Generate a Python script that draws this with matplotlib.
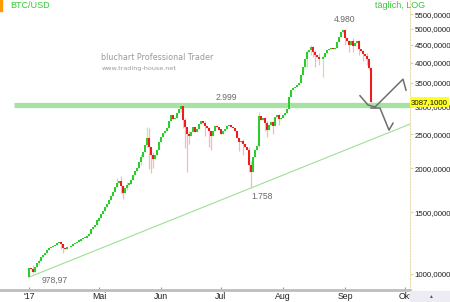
import matplotlib
matplotlib.use("Agg")
import matplotlib.pyplot as plt
import matplotlib.dates as mdates
import matplotlib.transforms as mtransforms
import pandas as pd
import numpy as np

plt.rcParams['font.family'] = ['Liberation Sans', 'DejaVu Sans']

# daily BTC/USD data, 27.03.2017 - 14.09.2017
start = pd.Timestamp("2017-03-27")
first_open = 979
closes = [
    1040, 1030, 1010, 1045, 1075, 1090, 1120, 1135, 1150, 1170,
    1185, 1195, 1200, 1210, 1225, 1230, 1215, 1185, 1180, 1190,
    1195, 1200, 1215, 1225, 1235, 1245, 1255, 1265, 1270, 1285,
    1300, 1340, 1360, 1380, 1420, 1440, 1480, 1510, 1550, 1580,
    1620, 1670, 1710, 1770, 1820, 1840, 1780, 1700, 1760, 1790,
    1810, 1850, 1910, 1960, 2000, 2080, 2150, 2230, 2330, 2440,
    2300, 2180, 2120, 2180, 2260, 2380, 2460, 2520, 2560, 2600,
    2720, 2840, 2760, 2790, 2880, 2950, 3000, 2750, 2620, 2500,
    2470, 2540, 2620, 2530, 2590, 2680, 2720, 2700, 2640, 2600,
    2550, 2470, 2560, 2640, 2620, 2580, 2510, 2560, 2590, 2640,
    2650, 2620, 2600, 2560, 2440, 2380, 2390, 2350, 2300, 2250,
    2050, 1950, 2150, 2250, 2320, 2820, 2750, 2780, 2700, 2580,
    2650, 2710, 2640, 2800, 2830, 2760, 2780, 2840, 2880, 2950,
    3200, 3350, 3380, 3420, 3450, 3500, 3700, 3900, 4100, 4280,
    4340, 4420, 4300, 4200, 4150, 4090, 4100, 4140, 4250, 4340,
    4370, 4390, 4380, 4400, 4580, 4720, 4880, 4950, 4700, 4600,
    4500, 4620, 4450, 4540, 4620, 4380, 4330, 4230, 4180, 4100,
    3860, 3087,
]
# longer shadows (day index: high, low)
shadows = {
    2: (1062, 1005), 5: (1100, 1060), 16: (1240, 1175), 17: (1215, 1150),
    44: (1880, 1790), 46: (1900, 1700), 47: (1790, 1640), 49: (1830, 1740),
    56: (2200, 2050), 59: (2620, 2300), 60: (2600, 1990), 61: (2300, 1940),
    62: (2220, 2000), 76: (3030, 2900), 77: (3000, 2600), 78: (2780, 2280),
    79: (2620, 1950), 80: (2560, 2350), 88: (2720, 2480), 90: (2620, 2300),
    91: (2560, 2250), 105: (2440, 2240), 107: (2420, 2180), 110: (2300, 1950),
    111: (2100, 1758), 115: (2900, 2300), 118: (2800, 2560), 119: (2720, 2450),
    122: (2720, 2500), 125: (2860, 2650), 139: (4350, 3900), 141: (4480, 4200),
    142: (4450, 4150), 143: (4350, 3900), 145: (4250, 3950), 147: (4200, 3650),
    157: (4980, 4850), 158: (4950, 4500), 160: (4650, 4300), 162: (4700, 4300),
    165: (4650, 4200), 167: (4350, 4050), 169: (4250, 3950), 170: (4120, 3800),
    171: (3900, 3000),
}

# resistance, trend line anchors and the hand drawn arrows (day index, price)
resistance = 3030
trend_days = [0, 111]
trend_vals = [979, 1758]
arrow_up = [(165.5, 3220), (169.5, 3030), (173, 2990), (187, 3590), (188.5, 3340)]
arrow_down = [(171, 2970), (175.5, 2970), (180, 2570), (182, 2690)]

yticks = [1000, 1500, 2000, 2500, 3000, 3500, 4000, 4500, 5000, 5500]
last_price = 3087.1

dates = pd.date_range(start, periods=len(closes), freq="D")
opens = [first_open] + closes[:-1]
x = mdates.date2num(dates)
highs = [max(o, c) for o, c in zip(opens, closes)]
lows = [min(o, c) for o, c in zip(opens, closes)]
for i, (h, l) in shadows.items():
    highs[i] = max(highs[i], h)
    lows[i] = min(lows[i], l)

def day(d):
    return mdates.date2num(start + pd.Timedelta(days=d))

fig = plt.figure(figsize=(4.5, 3.02), dpi=100)
ax = fig.add_axes([0, 12 / 302, 410 / 450, 290 / 302])
ax.set_yscale('log')
ax.set_ylim(900, 6035)
ax.set_xlim(day(-14.5), day(190.5))

# candles
up = [c >= o for o, c in zip(opens, closes)]
wick_col = ['#b9e9b3' if u else '#f8b8b8' for u in up]
body_col = ['#2ccc2c' if u else '#ee1c1c' for u in up]
ax.vlines(x, lows, highs, colors=wick_col, lw=0.9, zorder=2)
ax.bar(x, [abs(c - o) + 0.5 for o, c in zip(opens, closes)],
       bottom=[min(o, c) for o, c in zip(opens, closes)],
       width=0.75, color=body_col, linewidth=0, zorder=3)

# resistance and trend line
ax.plot([day(-7.5), day(190.5)], [resistance, resistance], color='#a6e3a0', lw=3.8, zorder=1, solid_capstyle='butt')
slope = (np.log10(trend_vals[1]) - np.log10(trend_vals[0])) / (trend_days[1] - trend_days[0])
t_end = 190.5
ax.plot([day(trend_days[0]), day(t_end)],
        [trend_vals[0], 10 ** (np.log10(trend_vals[0]) + slope * t_end)],
        color='#9ee095', lw=0.8, zorder=1)

for pts in (arrow_up, arrow_down):
    ax.plot([day(p[0]) for p in pts], [p[1] for p in pts], color='#6e6e6e', lw=1.1, zorder=4)

# value labels
lab = dict(color='#6a6a6a', fontsize=6.2, ha='center', va='center')
ax.text(day(13), 961, '978,97', **lab)
ax.text(day(116.5), 1657, '1.758', **lab)
ax.text(day(98.5), 3193, '2.999', **lab)
ax.text(day(158), 5325, '4.980', **lab)

# watermark
ax.text(0.247, 0.8, 'bluchart Professional Trader', transform=ax.transAxes,
        color='#9a9a9a', fontsize=5.8, family=['DejaVu Sans'], va='center')
ax.text(0.247, 0.765, 'www.trading-house.net', transform=ax.transAxes,
        color='#9a9a9a', fontsize=4.6, family=['DejaVu Sans'], va='center')

# axes styling
for s in ('top', 'left'):
    ax.spines[s].set_visible(False)
ax.spines['right'].set_color('#e7dcae')
ax.spines['right'].set_linestyle((0, (1, 1.5)))
ax.spines['bottom'].set_color('#bdbdbd')
ax.spines['bottom'].set_linewidth(2)
ax.yaxis.tick_right()
ax.set_yticks(yticks)
ax.set_yticklabels([f'{v},0000' for v in yticks])
ax.yaxis.set_minor_locator(matplotlib.ticker.NullLocator())
ax.tick_params(axis='y', labelsize=5.7, length=2, color='#e0d4a0', pad=1.2, labelcolor='#222222')

tick_dates = [start, pd.Timestamp("2017-05-01"), pd.Timestamp("2017-06-01"), pd.Timestamp("2017-07-01"),
              pd.Timestamp("2017-08-01"), pd.Timestamp("2017-09-01"), pd.Timestamp("2017-10-01")]
tick_names = ["'17", 'Mai', 'Jun', 'Jul', 'Aug', 'Sep', 'Okt']
ax.set_xticks(mdates.date2num(tick_dates))
ax.set_xticklabels(tick_names)
ax.tick_params(axis='x', labelsize=6.3, length=2, direction='in', color='#999999', pad=1.5, labelcolor='#222222')
ax.xaxis.set_minor_locator(matplotlib.ticker.NullLocator())

# last price box
trans = mtransforms.blended_transform_factory(ax.transAxes, ax.transData)
ax.text(1.003, last_price, f'{last_price:.4f}'.replace('.', ','), transform=trans, fontsize=5.7,
        va='center', ha='left', color='#111111', zorder=10,
        bbox=dict(boxstyle='square,pad=0.15', fc='#ffff22', ec='none'))

# header texts
fig.text(10 / 450, 1 - 6 / 302, 'BTC/USD', color='#33cc33', fontsize=6.5, va='center')
fig.patches.append(matplotlib.patches.Rectangle((0, 1 - 11 / 302), 2 / 450, 11 / 302,
                   transform=fig.transFigure, color='#ff9900'))
fig.text(425 / 450, 1 - 6 / 302, 'täglich, LOG', color='#33cc33', fontsize=6.5, va='center', ha='right')

# little corner box bottom right
fig.patches.append(matplotlib.patches.Rectangle((410 / 450, 0), 40 / 450, 11 / 302,
                   transform=fig.transFigure, color='#ececf2'))
fig.text(430 / 450, 5 / 302, '▲', color='#3355aa', fontsize=3.5, ha='center', va='center')

fig.savefig('out.png', dpi=100)
